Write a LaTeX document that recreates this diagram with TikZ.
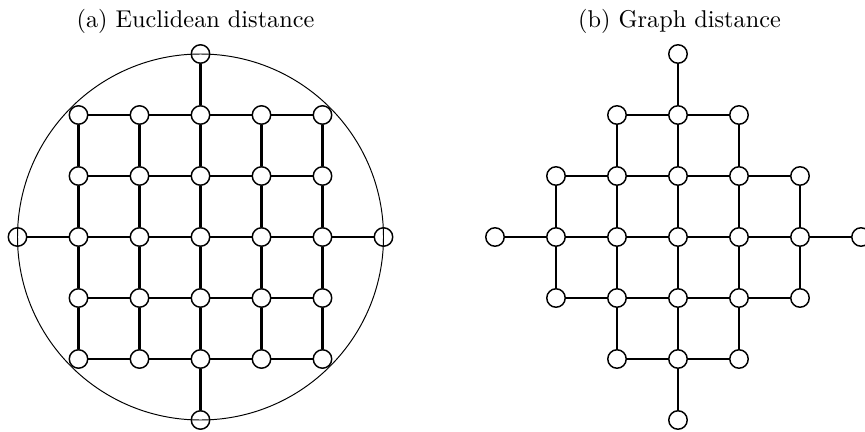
\documentclass[tikz,border=0pt]{standalone}
\begin{document}
\begin{tikzpicture}[x=0.412pt,y=-0.412pt,
  vtx/.style={circle,draw,fill=white,line width=0.6pt,inner sep=0pt,minimum size=7.6pt},
  link/.style={line width=0.85pt},
  ring/.style={line width=0.4pt},
  captext/.style={anchor=base,font=\fontsize{10}{12}\selectfont}]
\useasboundingbox (0,0) rectangle (865,431);
% captions
\node[captext] (ta) at (195.5,27) {(a) Euclidean distance};
\node[captext] (tb) at (679.5,27) {(b) Graph distance};
% left grid
\foreach \i in {-2,...,2}{
  \foreach \j in {-2,...,2}{
    \node[vtx] (L\i\j) at ({200.5+61*\i},{237+61*\j}) {};
  }}
\node[vtx] (LT) at (200.5,54) {};
\node[vtx] (LB) at (200.5,420) {};
\node[vtx] (LL) at (17.5,237) {};
\node[vtx] (LR) at (383.5,237) {};
\foreach \i/\k in {-2/-1,-1/0,0/1,1/2}{
  \foreach \j in {-2,...,2}{
    \draw[link] (L\i\j) -- (L\k\j);
    \draw[link] (L\j\i) -- (L\j\k);
  }}
\draw[link] (LT) -- (L0-2);
\draw[link] (LB) -- (L02);
\draw[link] (LL) -- (L-20);
\draw[link] (LR) -- (L20);
\draw[ring] (200.5,237) circle[radius=183];
% right diamond
\foreach \i in {-3,...,3}{
  \foreach \j in {-3,...,3}{
    \pgfmathtruncatemacro\dd{abs(\i)+abs(\j)}
    \ifnum\dd<4
      \node[vtx] (R\i\j) at ({678+61*\i},{237+61*\j}) {};
    \fi
  }}
\foreach \i in {-3,...,2}{
  \pgfmathtruncatemacro\kk{\i+1}
  \foreach \j in {-3,...,3}{
    \pgfmathtruncatemacro\da{abs(\i)+abs(\j)}
    \pgfmathtruncatemacro\db{abs(\kk)+abs(\j)}
    \ifnum\da<4 \ifnum\db<4
      \draw[link] (R\i\j) -- (R\kk\j);
      \draw[link] (R\j\i) -- (R\j\kk);
    \fi\fi
  }}
\end{tikzpicture}
\end{document}
